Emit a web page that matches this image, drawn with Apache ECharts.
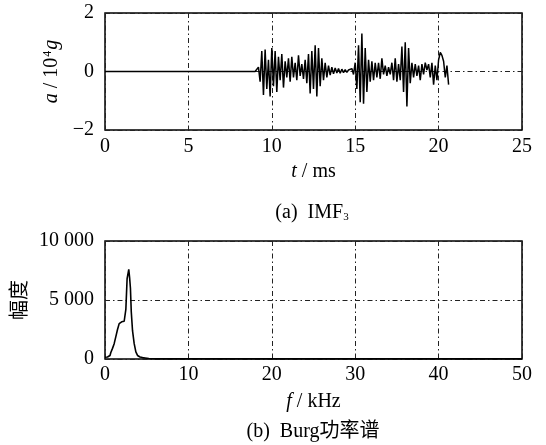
<!DOCTYPE html>
<html>
<head>
<meta charset="utf-8">
<script src="https://cdn.jsdelivr.net/npm/echarts@6/dist/echarts.min.js"></script>
<style>
html,body{margin:0;padding:0;background:#fff;}
#c{width:546px;height:445px;}
</style>
</head>
<body>
<div id="c"></div>
<script>
// (a) IMF3 time signal
var timeMs = [0, 9.0, 9.1, 9.2, 9.3, 9.4, 9.5, 9.6, 9.7, 9.8, 9.9,
  10.0, 10.1, 10.2, 10.3, 10.4, 10.5, 10.6, 10.7, 10.8, 10.9,
  11.0, 11.1, 11.2, 11.3, 11.4, 11.5, 11.6, 11.7, 11.8, 11.9,
  12.0, 12.1, 12.2, 12.3, 12.4, 12.5, 12.6, 12.7, 12.8, 12.9,
  13.0, 13.1, 13.2, 13.3, 13.4, 13.5, 13.6, 13.7, 13.8, 13.9,
  14.0, 14.1, 14.2, 14.3, 14.4, 14.5, 14.6, 14.7, 14.8, 14.9,
  15.0, 15.1, 15.2, 15.3, 15.4, 15.5, 15.6, 15.7, 15.8, 15.9,
  16.0, 16.1, 16.2, 16.3, 16.4, 16.5, 16.6, 16.7, 16.8, 16.9,
  17.0, 17.1, 17.2, 17.3, 17.4, 17.5, 17.6, 17.7, 17.8, 17.9,
  18.0, 18.1, 18.2, 18.3, 18.4, 18.5, 18.6, 18.7, 18.8, 18.9,
  19.0, 19.1, 19.2, 19.3, 19.4, 19.5, 19.6, 19.7, 19.8, 19.9,
  20.0, 20.1, 20.2, 20.3, 20.4, 20.5, 20.6];
var accel = [0, 0, 0.05, 0.15, -0.35, 0.7, -0.8, 0.75, -0.6, 0.4, -0.85,
  0.8, -0.5, 0.7, -0.7, 0.5, -0.3, 0.6, -0.55, 0.35, -0.2,
  0.45, -0.35, 0.5, -0.2, 0.3, -0.3, 0.55, -0.15, 0.25, -0.25,
  0.4, -0.4, 0.6, -0.75, 0.7, -0.6, 0.9, -0.85, 0.8, -0.5,
  0.45, -0.3, 0.3, -0.2, 0.2, -0.12, 0.15, -0.08, 0.12, -0.05,
  0.1, -0.06, 0.08, -0.04, 0.06, -0.03, 0.05, 0.02, 0.1, -0.1,
  0.3, -0.6, 0.9, -1.05, 1.3, -1.1, 0.8, -0.7, 0.4, -0.35,
  0.35, -0.3, 0.3, -0.2, 0.3, -0.25, 0.45, -0.1, 0.2, -0.15,
  0.15, -0.1, 0.3, -0.3, 0.45, -0.35, 0.25, -0.3, 0.85, -0.7,
  1.0, -1.2, 0.8, -0.4, 0.3, -0.2, 0.25, -0.15, 0.2, -0.3,
  0.25, -0.1, 0.3, 0.05, 0.25, -0.2, 0.3, -0.45, 0.2, -0.3,
  0.4, 0.65, 0.55, 0.35, -0.2, 0.2, -0.45];

// (b) Burg power spectrum
var freqKHz = [0, 0.2, 0.4, 0.6, 0.8, 1.0, 1.2, 1.4, 1.6, 1.8, 2.0, 2.2, 2.4, 2.6, 2.7, 2.8, 2.9, 3.0, 3.1, 3.2, 3.4, 3.6, 3.8, 4.0, 4.2, 4.4, 4.6, 4.8, 5.0, 5.5, 6.0, 50];
var amplitude = [150, 170, 220, 300, 550, 900, 1300, 1900, 2500, 3000, 3150, 3200, 3300, 4200, 6800, 6900, 7600, 6900, 6000, 4000, 2400, 1300, 600, 300, 170, 120, 100, 90, 40, 20, 10, 10];

var topTicks = {"2": "2", "0": "0", "-2": "\u22122"};
var botTicks = {"0": "0", "5000": "5 000", "10000": "10 000"};

var serif = "Liberation Serif";
var dash = [5, 3, 1.5, 3];

var sigData = timeMs.map(function (t, i) { return [t, accel[i]]; });
var specData = freqKHz.map(function (f, i) { return [f, amplitude[i]]; });

var chart = echarts.init(document.getElementById('c'));
var lab = {color: '#000', fontFamily: serif, fontSize: 20};
var italicRich = {i: {fontFamily: serif, fontSize: 20, fontStyle: 'italic', color: '#000'}};
chart.setOption({
  animation: false,
  backgroundColor: '#fff',
  graphic: [
    {type: 'text', x: 312, y: 213, silent: true,
     style: {text: '(a)  IMF{sub|3}', align: 'center', verticalAlign: 'middle',
       font: '20px "Liberation Serif"', fill: '#000',
       rich: {sub: {fontFamily: serif, fontSize: 11, fill: '#000', padding: [9, 0, 0, 0]}}}},
    {type: 'text', x: 313, y: 432, silent: true,
     style: {text: '(b)  Burg功率谱', align: 'center', verticalAlign: 'middle',
       font: '20px "Liberation Serif", "Noto Sans CJK SC"', fill: '#000'}}
  ],
  grid: [
    {left: 105, top: 13, width: 417, height: 117, show: true, borderColor: '#000', borderWidth: 1.5, backgroundColor: 'transparent'},
    {left: 105, top: 241, width: 417, height: 118, show: true, borderColor: '#000', borderWidth: 1.5, backgroundColor: 'transparent'}
  ],
  xAxis: [
    {gridIndex: 0, type: 'value', min: 0, max: 25, interval: 5,
     axisLine: {show: false}, axisTick: {show: false},
     axisLabel: Object.assign({margin: 7}, lab),
     splitLine: {show: true, lineStyle: {color: '#222', width: 1, type: dash}},
     name: '{i|t} / ms', nameLocation: 'middle', nameGap: 32,
     nameTextStyle: {fontFamily: serif, fontSize: 20, color: '#000', rich: italicRich}},
    {gridIndex: 1, type: 'value', min: 0, max: 50, interval: 10,
     axisLine: {show: false}, axisTick: {show: false},
     axisLabel: Object.assign({margin: 6}, lab),
     splitLine: {show: true, lineStyle: {color: '#222', width: 1, type: dash}},
     name: '{i|f} / kHz', nameLocation: 'middle', nameGap: 33,
     nameTextStyle: {fontFamily: serif, fontSize: 20, color: '#000', rich: italicRich}}
  ],
  yAxis: [
    {gridIndex: 0, type: 'value', min: -2, max: 2, interval: 2,
     axisLine: {show: false}, axisTick: {show: false},
     axisLabel: Object.assign({margin: 11, formatter: function (v) { return topTicks[String(v)]; }}, lab),
     splitLine: {show: true, lineStyle: {color: '#222', width: 1, type: dash}},
     name: '{i|a} / 10{sup|4}{i|g}', nameLocation: 'middle', nameGap: 43, nameRotate: 90,
     nameTextStyle: {fontFamily: serif, fontSize: 20, color: '#000',
       rich: {i: {fontFamily: serif, fontSize: 20, fontStyle: 'italic', color: '#000'},
              sup: {fontFamily: serif, fontSize: 12, color: '#000', padding: [0, 1, 8, 1]}}}},
    {gridIndex: 1, type: 'value', min: 0, max: 10000, interval: 5000,
     axisLine: {show: false}, axisTick: {show: false},
     axisLabel: Object.assign({margin: 11, formatter: function (v) { return botTicks[String(v)]; }}, lab),
     splitLine: {show: true, lineStyle: {color: '#222', width: 1, type: dash}},
     name: '幅度', nameLocation: 'middle', nameGap: 73, nameRotate: 90,
     nameTextStyle: {fontFamily: 'Noto Sans CJK SC', fontSize: 20, color: '#000'}}
  ],
  series: [
    {type: 'line', xAxisIndex: 0, yAxisIndex: 0, data: sigData, showSymbol: false,
     lineStyle: {color: '#000', width: 1.5}, silent: true},
    {type: 'line', xAxisIndex: 1, yAxisIndex: 1, data: specData, showSymbol: false, step: 'middle',
     lineStyle: {color: '#000', width: 1.6}, silent: true}
  ]
});
</script>
</body>
</html>
